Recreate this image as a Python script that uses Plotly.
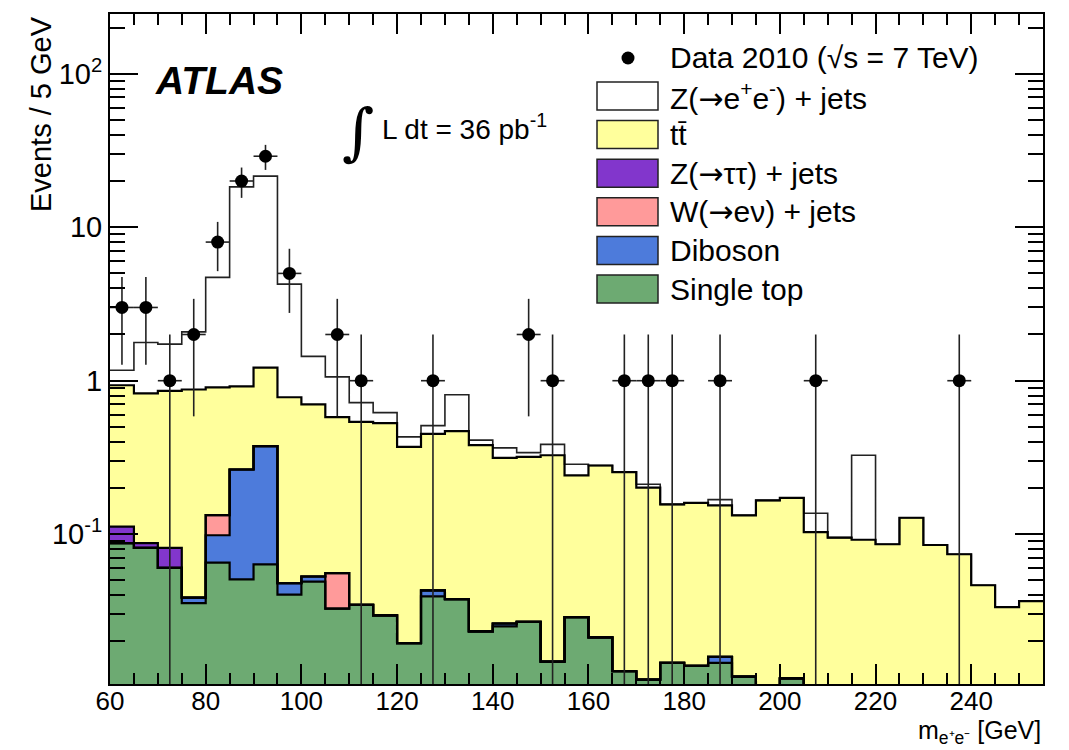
import numpy as np
import plotly.graph_objects as go

# ---------------- data ----------------
bin_low = [60, 65, 70, 75, 80, 85, 90, 95, 100, 105,
           110, 115, 120, 125, 130, 135, 140, 145, 150, 155,
           160, 165, 170, 175, 180, 185, 190, 195, 200, 205,
           210, 215, 220, 225, 230, 235, 240, 245, 250]
bin_width = 5

data_counts = [3, 3, 1, 2, 8, 20, 29, 5, 0, 2,
               1, 0, 0, 1, 0, 0, 0, 2, 1, 0,
               0, 1, 1, 1, 0, 1, 0, 0, 0, 1,
               0, 0, 0, 0, 0, 1, 0, 0, 0]

single_top = [0.0874, 0.0815, 0.0604, 0.0356, 0.0652, 0.0508, 0.0636, 0.0404, 0.0491, 0.0327,
              0.0346, 0.0296, 0.0195, 0.0394, 0.0377, 0.0233, 0.0251, 0.0268, 0.0148, 0.0288,
              0.0213, 0.0128, 0.0113, 0.0145, 0.0139, 0.0145, 0.0118, 0.0, 0.0115, 0.0,
              0.0, 0.0, 0.0, 0.0, 0.0, 0.0, 0.0, 0.0, 0.0]
diboson = [0.0, 0.0, 0.0, 0.0030, 0.0332, 0.2132, 0.3114, 0.0075, 0.0039, 0.0,
           0.0, 0.0, 0.0, 0.0036, 0.0, 0.0, 0.0011, 0.0, 0.0, 0.0,
           0.0, 0.0, 0.0, 0.0, 0.0, 0.0014, 0.0, 0.0, 0.0, 0.0,
           0.0, 0.0, 0.0, 0.0, 0.0, 0.0, 0.0, 0.0, 0.0]
w_enu = [0.0, 0.0, 0.0, 0.0, 0.0346, 0.0, 0.0, 0.0, 0.0, 0.0230,
         0.0, 0.0, 0.0, 0.0, 0.0, 0.0, 0.0, 0.0, 0.0, 0.0,
         0.0, 0.0, 0.0, 0.0, 0.0, 0.0, 0.0, 0.0, 0.0, 0.0,
         0.0, 0.0, 0.0, 0.0, 0.0, 0.0, 0.0, 0.0, 0.0]
z_tautau = [0.0246, 0.0059, 0.0211, 0.0, 0.0, 0.0, 0.0, 0.0, 0.0, 0.0,
            0.0, 0.0, 0.0, 0.0, 0.0, 0.0, 0.0, 0.0, 0.0, 0.0,
            0.0, 0.0, 0.0, 0.0, 0.0, 0.0, 0.0, 0.0, 0.0, 0.0,
            0.0, 0.0, 0.0, 0.0, 0.0, 0.0, 0.0, 0.0, 0.0]
ttbar = [0.822, 0.740, 0.777, 0.838, 0.772, 0.655, 0.840, 0.732, 0.647, 0.524,
         0.505, 0.500, 0.351, 0.407, 0.432, 0.357, 0.288, 0.292, 0.312, 0.213,
         0.259, 0.241, 0.190, 0.142, 0.146, 0.138, 0.121, 0.166, 0.161, 0.103,
         0.095, 0.092, 0.086, 0.128, 0.085, 0.074, 0.0465, 0.0335, 0.0366]
z_ee = [0.236, 0.948, 0.872, 1.203, 3.805, 17.38, 20.29, 3.48, 0.74, 0.48,
        0.18, 0.09, 0.06, 0.06, 0.34, 0.03, 0.051, 0.021, 0.058, 0.044,
        0.0, 0.0, 0.010, 0.0, 0.0, 0.014, 0.0, 0.0, 0.0, 0.034,
        0.0, 0.235, 0.0, 0.0, 0.0, 0.0, 0.0, 0.0, 0.0]

x_major = [60, 80, 100, 120, 140, 160, 180, 200, 220, 240]
y_major = [0.1, 1, 10, 100]
y_major_text = ["10<sup>-1</sup>", "1", "10", "10<sup>2</sup>"]

GREEN = "#6DAA72"
BLUE = "#4D7BDB"
PINK = "#FF9A9A"
PURPLE = "#8236CC"
YELLOW = "#FFFF9C"
WHITE = "#FFFFFF"

ARROW = "<span style='font-family:DejaVu Sans'>→</span>"
layers = [
    ("Single top", single_top, GREEN),
    ("Diboson", diboson, BLUE),
    ("W(" + ARROW + "eν) + jets", w_enu, PINK),
    ("Z(" + ARROW + "ττ) + jets", z_tautau, PURPLE),
    ("tt\u0304", ttbar, YELLOW),
    ("Z(" + ARROW + "e<sup>+</sup>e<sup>-</sup>) + jets", z_ee, WHITE),
]

# ---------------- geometry ----------------
W, H = 1069, 750
ML, MR, MT, MB = 110, 26, 14, 66
PW, PH = W - ML - MR, H - MT - MB


def px(xp):
    return (xp - ML) / PW


def py(yp):
    return (H - MB - yp) / PH


FONT = "Liberation Sans, Arial, Helvetica, sans-serif"

edges = np.array(bin_low + [bin_low[-1] + bin_width], dtype=float)
centers = np.array(bin_low, dtype=float) + bin_width / 2
FLOOR = 1e-4

fig = go.Figure()

# baseline for the stacked fills
fig.add_trace(go.Scatter(x=edges, y=np.full(len(edges), FLOOR), mode="lines",
                         line=dict(width=0, shape="hv"), showlegend=False,
                         hoverinfo="skip"))

cum = np.zeros(len(bin_low))
steps = []
for name, vals, color in layers:
    cum = cum + np.array(vals, dtype=float)
    ystep = np.maximum(np.append(cum, cum[-1]), FLOOR)
    steps.append(ystep)
    fig.add_trace(go.Scatter(x=edges, y=ystep, mode="lines",
                             line=dict(width=0, shape="hv"),
                             fill="tonexty", fillcolor=color,
                             name=name, showlegend=False, hoverinfo="skip"))

# outlines: total first, then lower layers on top (ROOT THStack style)
for i in range(len(steps) - 1, -1, -1):
    top = i == len(steps) - 1
    fig.add_trace(go.Scatter(x=edges, y=steps[i], mode="lines",
                             line=dict(width=1.6 if top else 2.2,
                                       color="#222222" if top else "black",
                                       shape="hv"),
                             showlegend=False, hoverinfo="skip"))

# data points
counts = np.array(data_counts, dtype=float)
mask = counts > 0
n = counts[mask]
err = np.sqrt(n)
err_lo = np.minimum(err, n - 1e-5)
fig.add_trace(go.Scatter(
    x=centers[mask], y=n, mode="markers",
    marker=dict(size=13, color="black"),
    error_y=dict(type="data", array=err, arrayminus=err_lo, symmetric=False,
                 width=0, thickness=1.6, color="#222222"),
    error_x=dict(type="data", array=np.full(len(n), bin_width / 2),
                 width=0, thickness=1.6, color="#222222"),
    showlegend=False, hoverinfo="skip"))

x_minor = [v for v in range(65, 255, 5) if v not in x_major]
y_minor = []
for dec in [0.01, 0.1, 1, 10, 100]:
    for m in range(2, 10):
        y_minor.append(m * dec)

fig.update_layout(
    width=W, height=H, autosize=False,
    margin=dict(l=ML, r=MR, t=MT, b=MB),
    paper_bgcolor="white", plot_bgcolor="white",
    font=dict(family=FONT, color="black"),
    showlegend=False,
    xaxis=dict(range=[60, 255], tickmode="array", tickvals=x_major,
               ticks="inside", ticklen=20, tickwidth=1.5, tickcolor="black",
               showline=True, linewidth=2, linecolor="black", mirror="ticks",
               showgrid=False, zeroline=False, ticklabelstandoff=-7,
               tickfont=dict(size=26, family=FONT),
               minor=dict(tickmode="array", tickvals=x_minor, ticks="inside",
                          ticklen=11, tickwidth=1.5, tickcolor="black",
                          showgrid=False)),
    yaxis=dict(type="log", range=[-1.976, 2.389], tickmode="array",
               tickvals=y_major, ticktext=y_major_text,
               ticks="inside", ticklen=28, tickwidth=1.5, tickcolor="black",
               showline=True, linewidth=2, linecolor="black", mirror="ticks",
               showgrid=False, zeroline=False,
               tickfont=dict(size=29, family=FONT),
               minor=dict(tickmode="array", tickvals=y_minor, ticks="inside",
                          ticklen=15, tickwidth=1.5, tickcolor="black",
                          showgrid=False)),
)

ann = []
shapes = []

# axis titles
ann.append(dict(text="Events / 5 GeV", x=px(41), y=py(114), xref="paper", yref="paper",
                textangle=-90, showarrow=False, xanchor="center", yanchor="middle",
                font=dict(size=29, family=FONT)))
ann.append(dict(text="m<sub>e⁺e⁻</sub> [GeV]", x=px(1043), y=py(732), xref="paper",
                yref="paper", showarrow=False, xanchor="right", yanchor="middle",
                font=dict(size=25, family=FONT)))

# ATLAS label and luminosity
ann.append(dict(text="<b><i>ATLAS</i></b>", x=px(153), y=py(80), xref="paper", yref="paper",
                showarrow=False, xanchor="left", yanchor="middle",
                font=dict(size=39, family=FONT)))
ann.append(dict(text="∫", x=px(340), y=py(131), xref="paper", yref="paper",
                showarrow=False, xanchor="left", yanchor="middle",
                font=dict(size=62, family="DejaVu Serif, Liberation Serif, serif")))
ann.append(dict(text="L dt = 36 pb<sup>-1</sup>", x=px(380), y=py(127), xref="paper",
                yref="paper", showarrow=False, xanchor="left", yanchor="middle",
                font=dict(size=28, family=FONT)))

# legend (ROOT style)
leg_font = dict(size=30, family=FONT)
shapes.append(dict(type="circle", xref="paper", yref="paper",
                   x0=px(621.5), x1=px(634.5), y0=py(64.5), y1=py(51.5),
                   fillcolor="black", line=dict(width=0)))
ann.append(dict(text="Data 2010 (√s = 7 TeV)", x=px(668), y=py(57), xref="paper",
                yref="paper", showarrow=False, xanchor="left", yanchor="middle",
                font=leg_font))
row_centers = [96.0, 134.6, 173.2, 211.8, 250.4, 289.0]
legend_order = [layers[5], layers[4], layers[3], layers[2], layers[1], layers[0]]
for yc, (name, vals, color) in zip(row_centers, legend_order):
    shapes.append(dict(type="rect", xref="paper", yref="paper",
                       x0=px(597), x1=px(658), y0=py(yc + 14), y1=py(yc - 14),
                       fillcolor=color, line=dict(color="#222222", width=1.5)))
    ann.append(dict(text=name, x=px(668), y=py(yc), xref="paper", yref="paper",
                    showarrow=False, xanchor="left", yanchor="middle", font=leg_font))

fig.update_layout(annotations=ann, shapes=shapes)
fig.write_html("out.html")
